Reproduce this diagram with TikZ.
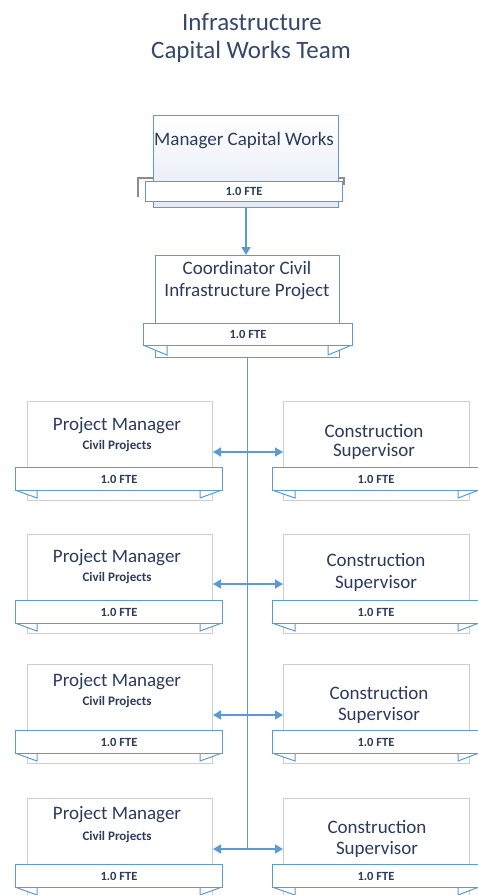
\documentclass[tikz,border=0pt]{standalone}
\usepackage{fontspec}
\setmainfont{Carlito}
\usetikzlibrary{arrows.meta}
\definecolor{obl}{HTML}{5B9BD5}
\definecolor{boxgray}{HTML}{CDCDCD}
\definecolor{txt}{HTML}{2C3A5C}
\definecolor{ttl}{HTML}{34486B}
\definecolor{mgrfill}{HTML}{E3E9F4}
\definecolor{brk}{HTML}{8C8C8C}
\begin{document}
\begin{tikzpicture}[x=1pt,y=-1pt,
  box/.style={draw=boxgray, line width=1pt, fill=white, anchor=north west, inner sep=0pt},
  bluebox/.style={draw=obl, line width=1pt, anchor=north west, inner sep=0pt},
  band/.style={draw=obl, line width=1pt, fill=white, anchor=north west, inner sep=0pt,
     font=\bfseries\fontsize{12.5}{14}\selectfont, text=txt},
  tabfold/.style={draw=obl, line width=1pt, fill=white, line join=miter},
  bigtxt/.style={font=\fontsize{19}{22}\selectfont, text=txt, inner sep=0pt},
  smalltxt/.style={font=\bfseries\fontsize{13}{15}\selectfont, text=txt, inner sep=0pt},
  titletxt/.style={font=\fontsize{25}{28}\selectfont, text=ttl, inner sep=0pt},
  conn/.style={draw=obl, line width=1.5pt},
  arr/.style={conn, -{Triangle[length=8pt,width=9pt]}},
  darr/.style={conn, {Triangle[length=8pt,width=9pt]}-{Triangle[length=8pt,width=9pt]}}
]
\useasboundingbox (0,0) rectangle (478,895);
\begin{scope}
\clip (0,0) rectangle (478,895);
% title
\node[titletxt] (t1) at (252,22) {Infrastructure};
\node[titletxt] (t2) at (251,52) {Capital Works Team};

% manager
\draw[brk, line width=2.5pt] (153,178) -- (138,178) -- (138,197);
\draw[brk, line width=2.5pt] (338,178) -- (344,178) -- (344,185);
\node[bluebox, top color=white, bottom color=mgrfill, minimum width=185pt, minimum height=92pt] (mgr) at (153,115) {};
\node[band, minimum width=197pt, minimum height=20pt] (mgrb) at (145,181) {1.0 FTE};
\node[bigtxt] (mgrt) at (244,141) {Manager Capital Works};

% coordinator
\node[bluebox, fill=white, minimum width=184pt, minimum height=102pt] (coord) at (155,255) {};
\draw[tabfold] (143,345) -- (167,355) -- (167,345);
\draw[tabfold] (352,345) -- (328,355) -- (328,345);
\node[band, minimum width=209pt, minimum height=22pt] (coordb) at (143,323) {1.0 FTE};
\node[bigtxt] (coordt1) at (247,268) {Coordinator Civil};
\node[bigtxt] (coordt2) at (247,292) {Infrastructure Project};

\draw[arr] (mgr.south) -- (mgr.south |- coord.north);

% rows
\foreach \i/\T/\pa/\pb/\ca/\cb/\cx/\ay in {
   1/401/426/446/431/451/374/452,
   2/534/558/578/560/583/376/584,
   3/664/682/702/693/715/379/715,
   4/798/815/837/827/849/377/849}{
  \pgfmathsetmacro{\B}{\T+66}
  \pgfmathsetmacro{\Bb}{\T+89}
  \pgfmathsetmacro{\Bt}{\T+97}
  % project manager
  \node[box, minimum width=185pt, minimum height=99pt] (pm\i) at (27,\T) {};
  \draw[tabfold] (15,\Bb) -- (37,\Bt) -- (37,\Bb);
  \draw[tabfold] (222,\Bb) -- (200,\Bt) -- (200,\Bb);
  \node[band, minimum width=207pt, minimum height=23pt] (pmb\i) at (15,\B) {1.0 FTE};
  \node[bigtxt] (pmt\i) at (117,\pa) {Project Manager};
  \node[smalltxt] (pms\i) at (117,\pb) {Civil Projects};
  % construction supervisor
  \node[box, minimum width=186pt, minimum height=99pt] (cs\i) at (283,\T) {};
  \draw[tabfold] (272,\Bb) -- (295,\Bt) -- (295,\Bb);
  \draw[tabfold] (479,\Bb) -- (458,\Bt) -- (458,\Bb);
  \node[band, minimum width=207pt, minimum height=23pt] (csb\i) at (272,\B) {1.0 FTE};
  \node[bigtxt] (cst\i) at (\cx,\ca) {Construction};
  \node[bigtxt] (css\i) at (\cx,\cb) {Supervisor};
  \coordinate (a\i) at (247,\ay);
  \draw[darr] (pm\i.east |- a\i) -- (cs\i.west |- a\i);
}
\draw[conn] (coord.south) -- (coord.south |- a4);
\end{scope}
\end{tikzpicture}
\end{document}
